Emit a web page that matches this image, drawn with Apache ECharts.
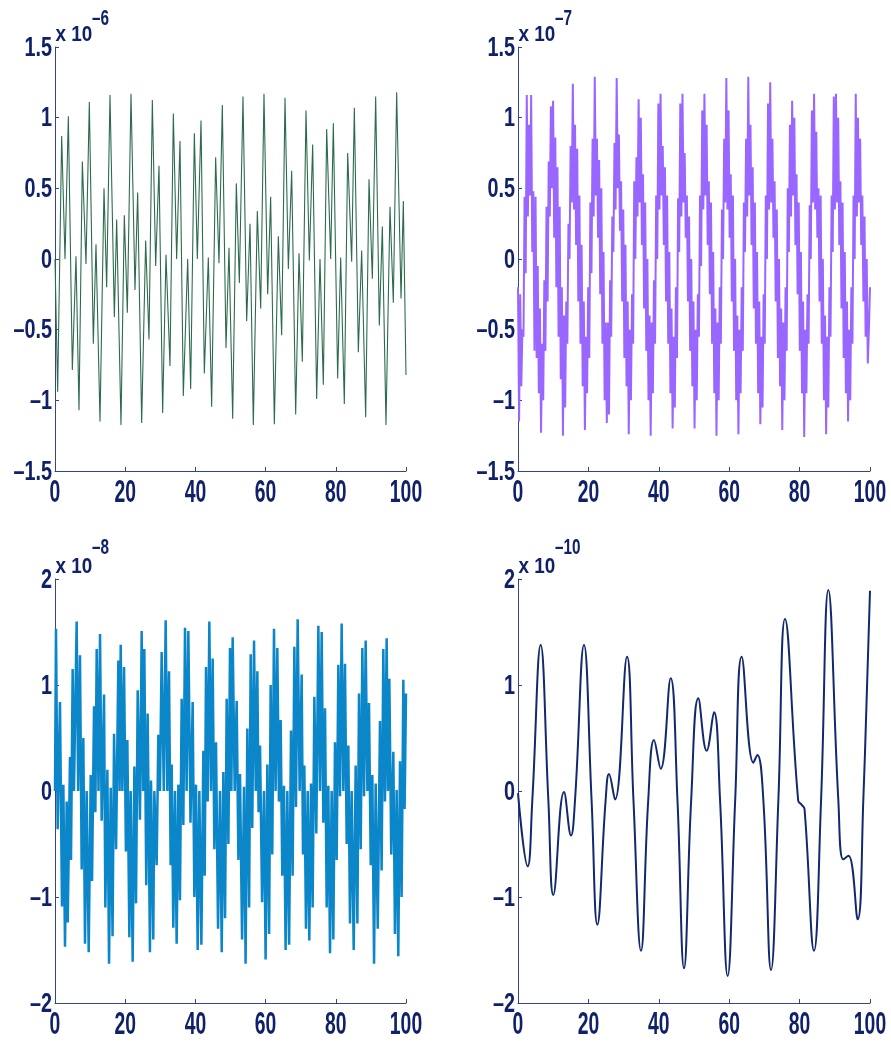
<!DOCTYPE html>
<html><head><meta charset="utf-8">
<script src="https://cdn.jsdelivr.net/npm/echarts@6/dist/echarts.min.js"></script>
<style>html,body{margin:0;padding:0;background:#fff}#c{width:891px;height:1042px}</style>
</head><body><div id="c"></div>
<script>
// ---- tick labels / ranges ----
const xTicks = [0, 20, 40, 60, 80, 100];
const topYTicks = [-1.5, -1, -0.5, 0, 0.5, 1, 1.5];
const botYTicks = [-2, -1, 0, 1, 2];
const exponents = ['\u20136', '\u20137', '\u20138', '\u201310'];

// ---- panel 1 (green, x10^-6) ----
const greenT = [0,0.76,1.90,2.85,3.80,4.94,5.98,6.84,7.79,8.83,9.78,10.92,11.68,12.82,13.96,14.72,15.67,16.91,17.57,18.80,19.75,20.61,21.65,22.79,23.55,24.69,25.83,26.78,27.73,28.68,29.63,30.67,31.62,32.76,33.71,34.66,35.61,36.56,37.80,38.65,39.70,40.55,41.60,42.54,43.68,44.63,45.77,46.72,47.67,48.72,49.57,50.62,51.66,52.52,53.56,54.61,55.56,56.50,57.64,58.60,59.54,60.59,61.44,62.49,63.63,64.58,65.53,66.48,67.43,68.57,69.52,70.46,71.51,72.46,73.41,74.55,75.50,76.45,77.40,78.54,79.30,80.53,81.39,82.43,83.38,84.52,85.28,86.42,87.37,88.51,89.46,90.41,91.36,92.40,93.26,94.30,95.44,96.39,97.34,98.58,99.24,100];
const greenV = [0,-0.94,0.87,0.0,1.01,-0.785,0.02,-1.07,0.69,-0.035,1.11,-0.60,0.105,-1.15,0.50,-0.20,1.16,-0.41,0.28,-1.175,0.31,-0.38,1.17,-0.22,0.47,-1.16,0.13,-0.57,1.125,-0.05,0.66,-1.09,0.03,-0.757,1.03,0.0,0.835,-0.97,0.0,-0.92,0.89,0.0,0.98,-0.81,0.01,-1.045,0.72,-0.03,1.09,-0.63,0.08,-1.13,0.535,-0.17,1.15,-0.44,0.25,-1.175,0.34,-0.35,1.17,-0.25,0.44,-1.17,0.16,-0.54,1.14,-0.07,0.625,-1.10,0.04,-0.727,1.05,-0.01,0.81,-0.99,0.0,-0.89,0.92,0.0,0.96,-0.845,0.01,-1.026,0.75,-0.02,1.07,-0.66,0.06,-1.12,0.565,-0.14,1.15,-0.47,0.23,-1.175,0.37,-0.31,1.18,-0.28,0.41,-0.82];

// ---- panel 2 (purple, x10^-7), uniformly sampled ----
const purpleDt = 100 / 321;
const purpleV = [-0.2,
 -1.15,-0.25,-0.9,-0.5,-0.55,0.44,-0.1,1.16,0.3,0.95,0.45,1.16,0.05,0.48,-0.65,0.44,-0.7,-0.05,-0.95,-0.35,
 -1.23,-0.6,-1.0,-0.15,-0.65,0.37,-0.3,0.69,0.3,1.08,0.5,1.12,0.15,0.86,-0.2,0.65,-0.55,0.37,-0.85,-0.2,
 -1.25,-0.4,-1.05,-0.3,-0.6,0.25,0.0,0.8,0.4,1.24,0.35,0.95,0.1,0.78,-0.3,0.45,-0.6,0.1,-0.9,-0.3,
 -1.21,-0.55,-0.95,-0.2,-0.7,0.4,-0.1,0.85,0.3,1.29,0.45,0.85,0.15,0.7,-0.25,0.5,-0.6,0.05,-1.0,-0.45,
 -1.16,-0.45,-1.1,-0.15,-0.55,0.3,0.05,0.82,0.35,1.28,0.5,0.88,0.2,0.55,-0.3,0.35,-0.7,0.1,-0.9,-0.3,
 -1.24,-0.5,-1.0,-0.25,-0.6,0.55,0.0,0.72,0.3,1.13,0.4,1.0,0.1,0.6,-0.35,0.4,-0.65,0.0,-1.0,-0.4,
 -1.25,-0.45,-0.95,-0.15,-0.6,0.45,0.0,1.1,0.35,1.17,0.45,0.8,0.1,0.65,-0.3,0.45,-0.6,0.05,-0.95,-0.35,
 -1.2,-0.55,-1.05,-0.2,-0.7,0.43,0.05,1.1,0.3,1.17,0.4,0.75,0.15,0.45,-0.3,0.3,-0.65,0.0,-0.9,-0.3,
 -1.2,-0.5,-1.0,-0.25,-0.55,0.45,-0.05,1.05,0.35,1.17,0.45,0.95,0.1,0.55,-0.25,0.4,-0.6,0.05,-0.95,-0.35,
 -1.25,-0.45,-1.0,-0.2,-0.6,0.35,0.0,0.85,0.4,1.28,0.35,1.05,0.15,0.6,-0.3,0.45,-0.65,0.0,-1.0,-0.4,
 -1.24,-0.5,-0.95,-0.2,-0.65,0.4,0.05,0.85,0.3,1.29,0.45,0.95,0.1,0.65,-0.35,0.4,-0.6,0.05,-0.95,-0.3,
 -1.17,-0.55,-1.05,-0.25,-0.6,0.45,0.0,1.1,0.35,1.25,0.4,0.85,0.15,0.55,-0.3,0.35,-0.7,0.0,-0.9,-0.35,
 -1.21,-0.45,-1.0,-0.2,-0.65,0.5,0.05,0.95,0.3,1.12,0.45,1.0,0.1,0.6,-0.25,0.4,-0.65,0.05,-0.95,-0.3,
 -1.26,-0.5,-0.95,-0.25,-0.6,0.38,0.0,1.05,0.4,1.17,0.35,0.9,0.15,0.5,-0.3,0.45,-0.6,0.0,-1.0,-0.4,
 -1.24,-0.55,-1.05,-0.2,-0.55,0.45,0.05,1.15,0.35,1.17,0.4,1.0,0.1,0.55,-0.35,0.4,-0.7,0.05,-0.95,-0.3,
 -1.15,-0.5,-1.0,-0.2,-0.6,0.45,0.0,1.17,0.3,1.0,0.4,0.85,0.1,0.45,-0.3,0.3,-0.55,0.0,-0.74,-0.5,
 -0.2];

// ---- panel 3 (blue, x10^-8) ----
const blueT = [0,0.28,0.76,1.42,1.99,2.38,2.85,3.33,3.62,4.27,4.56,5.03,5.4,6.17,6.6,7.12,7.6,8.07,8.55,9.02,9.6,10.17,10.55,11.12,11.5,11.88,12.4,12.83,13.3,13.97,14.34,14.92,15.4,15.87,16.4,16.82,17.4,18.05,18.4,18.72,19.2,19.67,20.2,20.61,21.18,21.56,22.13,22.61,23.08,23.56,24.2,24.69,25.1,25.45,26.0,26.4,27.05,27.35,28.0,28.3,28.96,29.44,29.9,30.39,31.0,31.53,32.0,32.48,32.95,33.24,33.7,34.19,34.66,35.14,35.6,36.09,36.56,37.04,37.5,37.99,38.6,39.22,39.7,40.17,40.65,41.12,41.7,42.26,42.65,43.02,43.5,43.97,44.45,44.92,45.4,45.87,46.45,47.01,47.5,47.96,48.45,48.91,49.4,49.86,50.25,50.62,51.2,51.76,52.25,52.71,53.3,53.85,54.3,54.8,55.3,55.75,56.2,56.7,57.2,57.65,58.0,58.41,59.0,59.54,60.0,60.49,61.0,61.44,61.9,62.39,62.85,63.34,63.8,64.29,64.75,65.24,65.7,66.19,66.7,67.24,67.7,68.19,68.65,69.14,69.7,70.28,70.65,71.04,71.5,71.99,72.45,72.94,73.4,73.89,74.45,75.03,75.5,75.98,76.45,76.93,77.4,77.87,78.35,78.82,79.3,79.77,80.25,80.72,81.2,81.67,82.15,82.62,83.1,83.57,84.05,84.52,85.1,85.66,86.15,86.61,87.1,87.56,88.05,88.51,89.0,89.46,89.95,90.41,90.9,91.36,91.95,92.59,93.05,93.54,94.0,94.49,94.85,95.25,95.8,96.39,96.85,97.34,97.8,98.29,98.75,99.24,99.6,100];
const blueV = [0,1.53,-0.36,0.84,-1.09,0.06,-1.47,-0.1,-1.24,0.32,-0.65,1.15,0.0,1.60,0.0,1.28,-0.74,0.50,-1.44,0.0,-1.52,0.15,-0.85,0.80,-0.2,1.34,0.0,1.48,-0.28,0.91,-1.1,0.20,-1.63,0.03,-1.37,0.54,-0.55,1.23,0.0,1.38,0.0,1.17,-0.57,0.48,-1.38,0.0,-1.61,0.23,-1.06,0.95,-0.27,1.51,0.0,1.34,-0.89,0.73,-1.52,0.10,-1.4,0.0,-0.7,0.53,0.0,1.31,0.0,1.61,0.0,1.13,-0.70,0.25,-1.29,0.0,-1.44,0.06,-1.03,0.87,-0.32,1.54,0.0,1.51,-0.3,0.84,-1.0,0.06,-1.5,0.0,-1.45,0.38,-0.8,1.17,-0.1,1.60,0.0,1.25,-0.55,0.46,-1.3,0.0,-1.52,0.18,-1.2,0.87,-0.5,1.35,0.0,1.45,0.0,0.85,-0.65,0.16,-1.4,0.04,-1.63,0.59,-1.1,1.29,-0.35,1.42,0.0,1.13,-0.2,0.43,-1.05,0.0,-1.59,0.25,-1.35,1.0,-0.6,1.53,0.0,1.35,-0.1,0.67,-0.8,0.05,-1.5,0.0,-1.45,0.57,-0.8,1.36,-0.15,1.62,0.0,1.10,-0.6,0.24,-1.3,0.0,-1.41,0.07,-1.1,0.89,-0.4,1.56,0.0,1.50,-0.3,0.78,-1.1,0.05,-1.53,0.0,-1.4,0.46,-0.65,1.19,-0.05,1.58,0.0,1.20,-0.5,0.43,-1.25,0.0,-1.5,0.24,-1.25,0.92,-0.55,1.35,-0.05,1.42,0.0,0.83,-0.7,0.15,-1.63,0.07,-1.3,0.66,-0.75,1.34,-0.1,1.44,0.0,1.06,-0.6,0.37,-1.35,0.01,-1.56,0.28,-1.0,1.05,-0.17,0.92];

// ---- panel 4 (navy, x10^-10) ----
const navyT = [0,2.75,4.07,6.44,8.62,10.04,13.07,15.06,16.2,18.75,20.9,22.54,24.9,25.85,27.56,30.97,32.8,34.94,37.0,38.64,40.53,43.37,45.3,47.16,49.2,51.23,53.6,55.68,57.4,59.56,61.7,63.54,66.86,68.0,69.7,71.88,73.97,75.85,79.6,80.6,81.4,84.09,86.1,88.16,91.0,92.4,93.9,96.5,98.1,100];
const navyV = [-0.02,-0.71,-0.085,1.377,-0.085,-0.98,-0.01,-0.42,-0.085,1.377,-0.085,-1.26,-0.085,0.16,-0.08,1.267,-0.085,-1.507,-0.085,0.48,0.21,1.063,-0.085,-1.673,-0.085,0.874,0.38,0.742,-0.085,-1.745,-0.085,1.267,0.267,0.34,-0.085,-1.689,-0.085,1.623,-0.09,-0.13,-0.17,-1.507,-0.085,1.896,-0.085,-0.645,-0.61,-1.21,-0.085,1.89];

// ---- layout / style ----
const FONT = '"Liberation Sans", Arial, sans-serif';
const TXT = '#10216a';
const AX = '#34468a';
const grids = [
  {left: 55, top: 47, width: 351, height: 424},
  {left: 518, top: 47, width: 352, height: 424},
  {left: 55, top: 579, width: 351, height: 424},
  {left: 518, top: 579, width: 352, height: 424}
];
const lineStyles = [
  {color: '#2d6b4d', width: 1.1},
  {color: '#9966ff', width: 2},
  {color: '#0b86c9', width: 2.5},
  {color: '#13296e', width: 2}
];
const pairs = (t, v) => t.map((x, i) => [x, v[i]]);
const seriesData = [
  pairs(greenT, greenV),
  purpleV.map((v, i) => [Math.min(100, i * purpleDt), v]),
  pairs(blueT, blueV),
  pairs(navyT, navyV)
];
const fmtY = v => (v < 0 ? '\u2013' : '') + String(Math.abs(v));
const yTicksOf = i => (i < 2 ? topYTicks : botYTicks);

const option = {
  animation: false,
  backgroundColor: '#fff',
  grid: grids.map(g => Object.assign({containLabel: false}, g)),
  xAxis: grids.map((g, i) => ({
    type: 'value', gridIndex: i, min: xTicks[0], max: xTicks[xTicks.length - 1],
    interval: xTicks[1] - xTicks[0],
    axisLine: {show: true, onZero: false, lineStyle: {color: AX, width: 1}},
    axisTick: {show: true, inside: true, length: 4, lineStyle: {color: AX}},
    splitLine: {show: false},
    axisLabel: {show: false}
  })),
  yAxis: grids.map((g, i) => {
    const t = yTicksOf(i);
    return {
      type: 'value', gridIndex: i, min: t[0], max: t[t.length - 1], interval: t[1] - t[0],
      axisLine: {show: true, onZero: false, lineStyle: {color: AX, width: 1}},
      axisTick: {show: true, inside: true, length: 4, lineStyle: {color: AX}},
      splitLine: {show: false},
      axisLabel: {show: false}
    };
  }),
  series: seriesData.map((d, i) => ({
    type: 'line', xAxisIndex: i, yAxisIndex: i, data: d, showSymbol: false, symbol: 'none',
    smooth: i === 3 ? 0.45 : false,
    lineStyle: lineStyles[i], clip: true
  }))
};
const chart = echarts.init(document.getElementById('c'), null, {renderer: 'canvas'});
chart.setOption(option);

// tick labels placed through the axes' own scales (condensed, tall MATLAB look)
const els = [];
grids.forEach((g, i) => {
  const yt = yTicksOf(i);
  yt.forEach(v => {
    const p = chart.convertToPixel({gridIndex: i}, [xTicks[0], v]);
    els.push({type: 'text', x: p[0] - 3, y: p[1] + 1, scaleX: 0.9, scaleY: 1.24, z: 10,
      style: {text: fmtY(v), fill: TXT, font: 'bold 22px ' + FONT, align: 'right', verticalAlign: 'middle'}});
  });
  xTicks.forEach(v => {
    const p = chart.convertToPixel({gridIndex: i}, [v, yt[0]]);
    els.push({type: 'text', x: p[0], y: p[1] + 23, scaleX: 0.88, scaleY: 1.4, z: 10,
      style: {text: String(v), fill: TXT, font: 'bold 22px ' + FONT, align: 'center', verticalAlign: 'middle'}});
  });
  const o = chart.convertToPixel({gridIndex: i}, [xTicks[0], yt[yt.length - 1]]);
  els.push({type: 'text', x: o[0] + 0.5, y: o[1] - 12.5, scaleX: 0.9, scaleY: 1.05, z: 10,
    style: {text: 'x 10', fill: TXT, font: 'bold 21px ' + FONT, align: 'left', verticalAlign: 'middle'}});
  els.push({type: 'text', x: o[0] + 37, y: o[1] - (i < 2 ? 27.5 : 31), scaleX: 0.85, scaleY: 1.2, z: 10,
    style: {text: exponents[i], fill: TXT, font: 'bold 18px ' + FONT, align: 'left', verticalAlign: 'middle'}});
});
chart.setOption({graphic: els});
</script></body></html>
